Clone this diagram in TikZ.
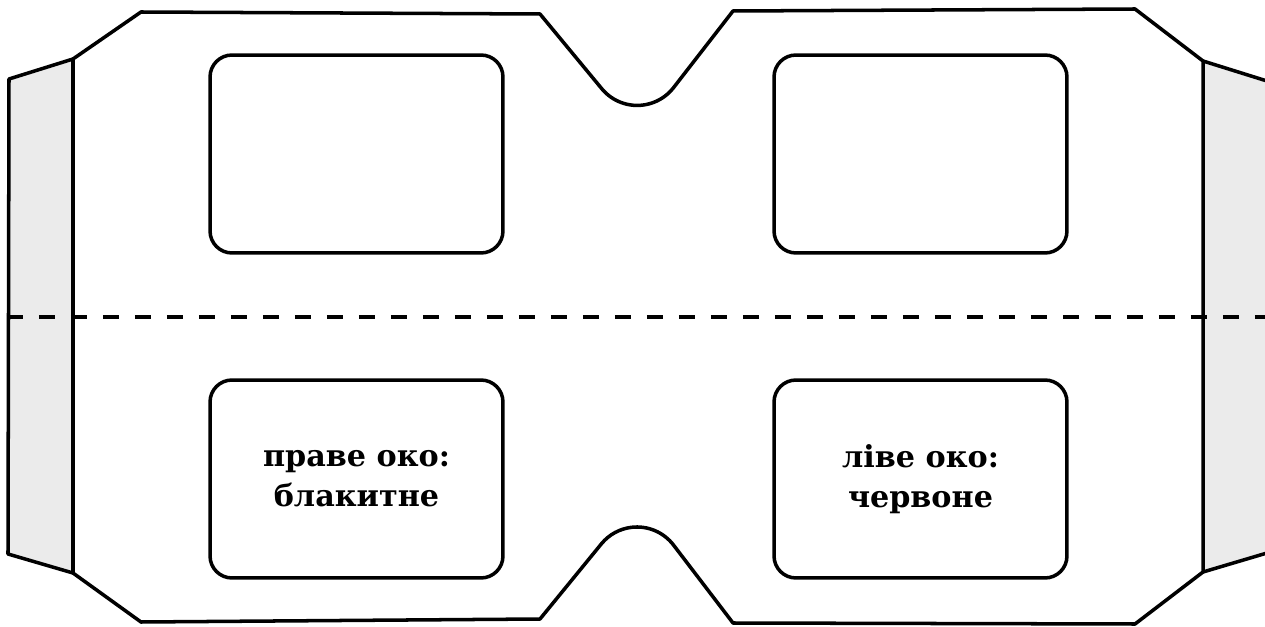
\documentclass[tikz,border=0pt]{standalone}
\usepackage{fontspec}
\newfontfamily\lensfont{DejaVu Serif}
\definecolor{flapgray}{HTML}{EBEBEB}
\begin{document}
\begin{tikzpicture}[x=0.02cm,y=0.02cm,line join=round,
		frame/.style={draw, line width=2pt},
		lens/.style={draw, line width=2pt, rounded corners=0.44cm,
			minimum width=5.86cm, minimum height=3.96cm, inner sep=0pt,
			align=center, font=\lensfont\bfseries\fontsize{17.2}{22.7}\selectfont}]
			\useasboundingbox (0,0) rectangle (1265,626);
			
			% side flaps
			\draw[frame, fill=flapgray] (9,547) -- (73,567) -- (73,53) -- (8,72) -- cycle;
			\draw[frame, fill=flapgray] (1203,565) -- (1267,545) -- (1267,73) -- (1203,54) -- cycle;
			
			% body
			\draw[frame, fill=white] (73,567) -- (141,614) -- (540,612) -- (602,537)
			arc[start angle=220, end angle=322, radius=0.92cm] -- (733,615) -- (1135,617)
			-- (1203,565) -- (1203,54) -- (1135,2) -- (733,3) -- (673.7,80.7)
			arc[start angle=37, end angle=140, radius=0.92cm] -- (540,7) -- (141,4)
			-- (73,53) -- cycle;
			
			\node	(a) at (356.5,472) [lens] {};
			\node	(b) at (920.5,472) [lens] {};
			\node	(c) at (356.5,147) [lens] {праве око:\\блакитне};
			\node	(d) at (920.5,147) [lens] {ліве око:\\червоне};
			
			% fold line
			\coordinate (p) at (0,309);
			\coordinate (q) at (1265,309);
			\draw[line width=2pt, dash pattern=on 0.32cm off 0.32cm, dash phase=0.5cm] (p) -- (q);
		\end{tikzpicture}
\end{document}
